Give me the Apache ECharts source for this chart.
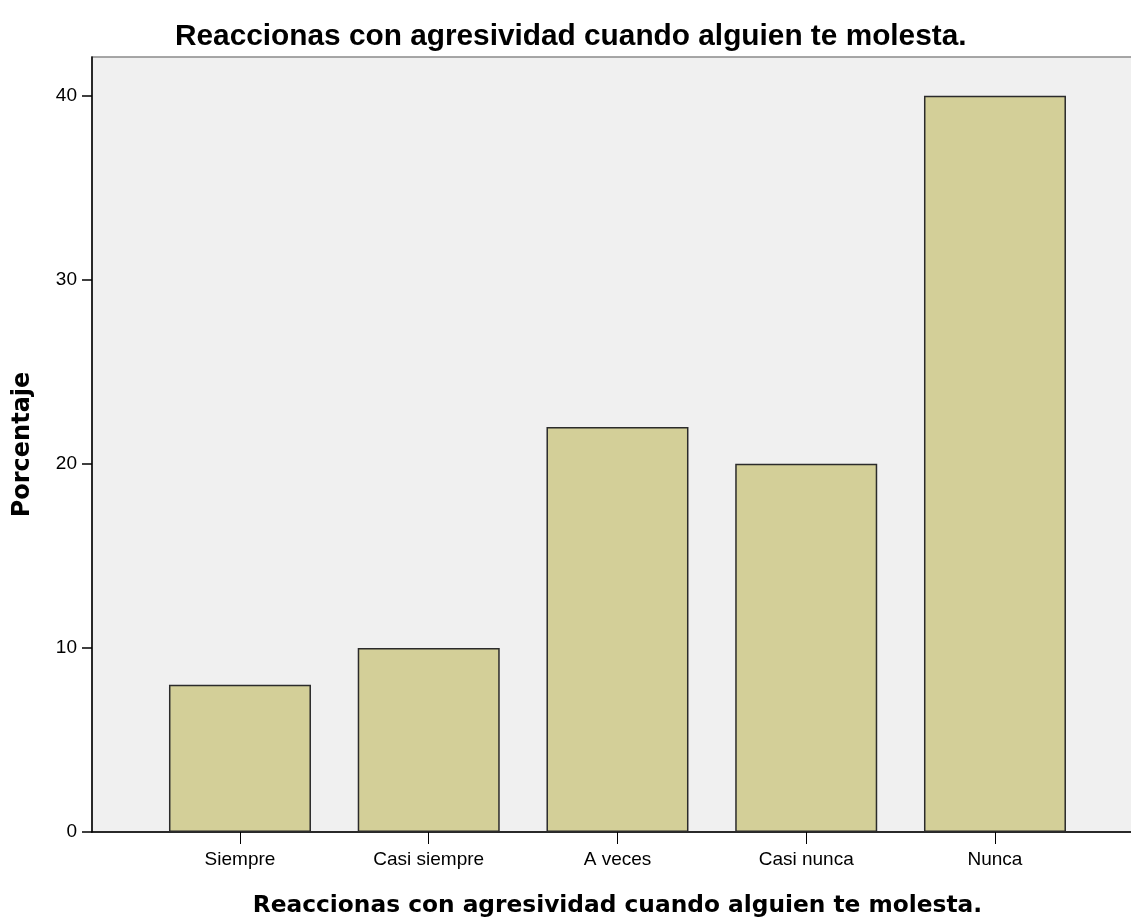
<!DOCTYPE html>
<html>
<head>
<meta charset="utf-8">
<script src="https://cdn.jsdelivr.net/npm/echarts@6/dist/echarts.min.js"></script>
<style>
  html, body { margin: 0; padding: 0; background: #fff; }
  #main { width: 1131px; height: 917px; }
</style>
</head>
<body>
<div id="main"></div>
<script>
var titulo = 'Reaccionas con agresividad cuando alguien te molesta.';
var categorias = ['Siempre', 'Casi siempre', 'A veces', 'Casi nunca', 'Nunca'];
var porcentajes = [8, 10, 22, 20, 40];
var yMax = 42.1;

var chart = echarts.init(document.getElementById('main'));
var option = {
  animation: false,
  backgroundColor: '#fff',
  title: {
    text: titulo,
    left: 170,
    top: 17,
    textStyle: { fontFamily: 'Liberation Sans', fontWeight: 'bold', fontSize: 29.8, color: '#000' }
  },
  grid: [
    // marco del grafico (fondo gris)
    { left: 92, right: -1, top: 57, bottom: 85, outerBoundsMode: 'none', show: true, backgroundColor: '#f0f0f0', borderColor: '#8a8a8a', borderWidth: 1.5 },
    // zona de las barras
    { left: 145.6, right: 41.65, top: 57, bottom: 85, outerBoundsMode: 'none' }
  ],
  xAxis: [
    {
      gridIndex: 0, type: 'value', min: 0, max: 1,
      axisLine: { show: true, onZero: false, lineStyle: { color: '#000', width: 1.5 } },
      axisTick: { show: false }, axisLabel: { show: false }, splitLine: { show: false }
    },
    {
      gridIndex: 1, type: 'category', data: categorias,
      axisLine: { show: false },
      axisTick: { show: true, alignWithLabel: true, length: 12, lineStyle: { color: '#000' } },
      axisLabel: { margin: 18, fontFamily: 'Liberation Sans', fontSize: 19, color: '#000' },
      name: titulo, nameLocation: 'middle', nameGap: 62,
      nameTextStyle: { fontFamily: 'DejaVu Sans', fontWeight: 'bold', fontSize: 23.3, color: '#000' }
    }
  ],
  yAxis: [
    {
      gridIndex: 0, type: 'value', min: 0, max: yMax, interval: 10,
      axisLine: { show: true, lineStyle: { color: '#000', width: 1.5 } },
      axisTick: { show: true, length: 10, lineStyle: { color: '#000', width: 1.5 } },
      axisLabel: {
        margin: 15, fontFamily: 'Liberation Sans', fontSize: 19, color: '#000',
        showMaxLabel: false
      },
      splitLine: { show: false },
      name: 'Porcentaje', nameLocation: 'middle', nameGap: 57,
      nameTextStyle: { fontFamily: 'DejaVu Sans', fontWeight: 'bold', fontSize: 24, color: '#000' }
    },
    {
      gridIndex: 1, type: 'value', min: 0, max: yMax, show: false
    }
  ],
  series: [
    {
      type: 'bar',
      xAxisIndex: 1, yAxisIndex: 1,
      data: porcentajes,
      barWidth: 142,
      itemStyle: { color: '#d3cf98', borderColor: '#2b2b2b', borderWidth: 1.5 }
    }
  ]
};
chart.setOption(option);
</script>
</body>
</html>
